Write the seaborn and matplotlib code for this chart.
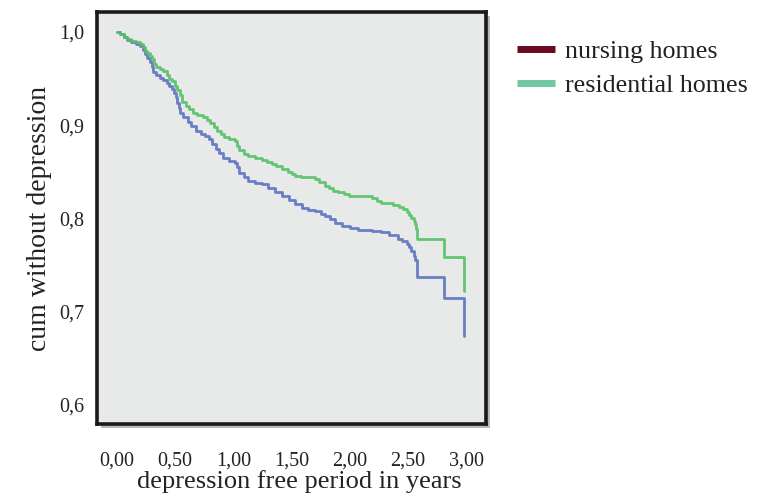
import numpy as np
import pandas as pd
import matplotlib
matplotlib.use("Agg")
import matplotlib.pyplot as plt
from matplotlib.lines import Line2D
from matplotlib.patches import Rectangle
import seaborn as sns

# Kaplan-Meier step estimates: time (years) and cumulative proportion without depression
residential_time = [0.00, 0.03, 0.06, 0.09, 0.12, 0.16, 0.20, 0.22, 0.24, 0.26, 0.28, 0.30,
                    0.32, 0.34, 0.37, 0.40, 0.43, 0.45, 0.47, 0.50, 0.52, 0.54, 0.56, 0.59,
                    0.62, 0.65, 0.69, 0.74, 0.77, 0.80, 0.83, 0.86, 0.89, 0.92, 0.96, 1.01,
                    1.03, 1.05, 1.09, 1.13, 1.19, 1.25, 1.29, 1.33, 1.37, 1.42, 1.47, 1.50,
                    1.53, 1.58, 1.64, 1.70, 1.74, 1.79, 1.82, 1.86, 1.90, 1.95, 1.99, 2.19,
                    2.23, 2.27, 2.37, 2.42, 2.46, 2.49, 2.51, 2.53, 2.55, 2.56, 2.57, 2.58,
                    2.81, 2.98]
residential_surv = [1.000, 0.998, 0.995, 0.992, 0.990, 0.989, 0.987, 0.984, 0.980, 0.977, 0.974, 0.971,
                    0.966, 0.963, 0.960, 0.958, 0.954, 0.950, 0.947, 0.942, 0.938, 0.932, 0.925, 0.921,
                    0.917, 0.913, 0.911, 0.909, 0.906, 0.902, 0.898, 0.894, 0.891, 0.887, 0.885, 0.883,
                    0.878, 0.873, 0.869, 0.867, 0.865, 0.863, 0.861, 0.858, 0.856, 0.853, 0.850, 0.848,
                    0.846, 0.845, 0.844, 0.842, 0.839, 0.835, 0.833, 0.830, 0.828, 0.826, 0.824, 0.822,
                    0.819, 0.817, 0.815, 0.812, 0.810, 0.807, 0.804, 0.801, 0.797, 0.794, 0.789, 0.778,
                    0.759, 0.722]

nursing_time = [0.00, 0.03, 0.06, 0.09, 0.12, 0.16, 0.20, 0.22, 0.24, 0.26, 0.28, 0.30,
                0.31, 0.34, 0.37, 0.40, 0.43, 0.45, 0.47, 0.49, 0.51, 0.52, 0.53, 0.54,
                0.57, 0.61, 0.64, 0.68, 0.72, 0.76, 0.79, 0.82, 0.85, 0.88, 0.91, 0.96,
                1.01, 1.03, 1.05, 1.09, 1.13, 1.19, 1.25, 1.30, 1.36, 1.42, 1.48, 1.53,
                1.59, 1.64, 1.70, 1.75, 1.79, 1.83, 1.87, 1.93, 2.00, 2.07, 2.19, 2.27,
                2.34, 2.41, 2.45, 2.49, 2.51, 2.53, 2.55, 2.56, 2.58, 2.81, 2.98]
nursing_surv = [1.000, 0.998, 0.995, 0.991, 0.989, 0.987, 0.985, 0.981, 0.976, 0.972, 0.968, 0.963,
                0.957, 0.954, 0.951, 0.949, 0.945, 0.942, 0.939, 0.935, 0.930, 0.924, 0.918, 0.913,
                0.909, 0.903, 0.899, 0.894, 0.891, 0.888, 0.885, 0.880, 0.875, 0.870, 0.865, 0.862,
                0.860, 0.855, 0.849, 0.844, 0.840, 0.838, 0.837, 0.833, 0.828, 0.824, 0.820, 0.816,
                0.811, 0.809, 0.808, 0.805, 0.803, 0.799, 0.795, 0.792, 0.790, 0.788, 0.787, 0.785,
                0.782, 0.778, 0.776, 0.773, 0.769, 0.765, 0.760, 0.755, 0.737, 0.715, 0.674]

groups = ["nursing homes", "residential homes"]
line_colors = {"nursing homes": "#5b72c0", "residential homes": "#55c066"}
legend_colors = ["#6b0a1e", "#72c8a0"]

x_ticks = [0.0, 0.5, 1.0, 1.5, 2.0, 2.5, 3.0]
x_ticklabels = ["0,00", "0,50", "1,00", "1,50", "2,00", "2,50", "3,00"]
y_ticks = [0.6, 0.7, 0.8, 0.9, 1.0]
y_ticklabels = ["0,6", "0,7", "0,8", "0,9", "1,0"]

df = pd.concat([
    pd.DataFrame({"time": nursing_time, "surv": nursing_surv, "group": groups[0]}),
    pd.DataFrame({"time": residential_time, "surv": residential_surv, "group": groups[1]}),
], ignore_index=True)

sns.set_style("white")
plt.rcParams["font.family"] = ["Liberation Serif", "DejaVu Serif"]

fig = plt.figure(figsize=(7.59, 4.95), dpi=100)
ax = fig.add_axes([0.1278, 0.1434, 0.5125, 0.8324])
ax.set_facecolor("#e8eaea")

# drop shadow behind the plot frame
shadow = Rectangle((0.1278 + 4 / 759, 0.1434 - 4 / 495), 0.5125, 0.8324,
                   transform=fig.transFigure, facecolor="#b8b8b8", edgecolor="none", zorder=-5)
fig.patches.append(shadow)

sns.lineplot(data=df, x="time", y="surv", hue="group", palette=line_colors,
             estimator=None, sort=False, drawstyle="steps-post", linewidth=2.0,
             alpha=0.9, legend=False, ax=ax)

ax.set_xlim(-0.171, 3.17)
ax.set_ylim(0.5796, 1.0215)
ax.set_xticks(x_ticks)
ax.set_xticklabels(x_ticklabels)
ax.set_yticks(y_ticks)
ax.set_yticklabels(y_ticklabels)
ax.tick_params(axis="both", direction="out", length=6, width=2, color="#808080",
               labelsize=14.5, labelcolor="#222222", pad=3)
ax.tick_params(axis="x", pad=14)

for side in ["left", "right", "top", "bottom"]:
    ax.spines[side].set_visible(True)
    ax.spines[side].set_color("#1a1a1a")
    ax.spines[side].set_linewidth(2.6)

ax.set_xlabel("depression free period in years", fontsize=19, color="#222222")
ax.xaxis.set_label_coords(0.521, -0.139, transform=ax.transAxes)
ax.xaxis.label.set_va("center")
ax.set_ylabel("cum without depression", fontsize=20, color="#222222", labelpad=5)

handles = [Line2D([0], [0], color=c, linewidth=5, solid_capstyle="butt") for c in legend_colors]
fig.legend(handles, groups, loc="upper left", bbox_to_anchor=(0.651, 0.966),
           frameon=False, fontsize=18.7, handlelength=1.45, handletextpad=0.38,
           labelspacing=0.42, labelcolor="#222222")

fig.savefig("out.png", dpi=100)
